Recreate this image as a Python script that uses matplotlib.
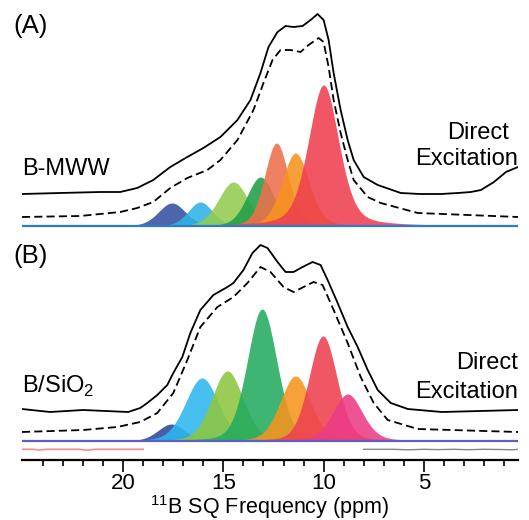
import numpy as np
import matplotlib.pyplot as plt

plt.rcParams['font.family'] = ['Liberation Sans', 'DejaVu Sans']
plt.rcParams['mathtext.fontset'] = 'custom'
plt.rcParams['mathtext.rm'] = 'Liberation Sans'

# ---- panel A (B-MWW): measured spectrum (solid) and fit (dashed), ppm vs intensity
a_spec_ppm = [25.05, 23.15, 21.15, 20.15, 19.3, 18.5, 17.65, 16.8, 16.0, 15.15, 14.3, 13.65,
              13.15, 12.75, 12.3, 11.9, 11.5, 11.05, 10.65, 10.3, 10.0, 9.75, 9.5, 9.15,
              8.8, 8.5, 8.0, 7.3, 6.15, 5.2, 4.15, 3.3, 2.65, 2.15, 1.5, 0.9, 0.3]
a_spec_int = [32, 33, 34, 34, 38, 46, 59, 69, 78, 89, 106, 126,
              153, 179, 194, 200, 199, 200, 206, 212, 206, 186, 153, 116,
              86, 66, 49, 41, 33, 32, 32, 33, 34, 36, 44, 54, 59]
a_fit_ppm = [25.05, 22.15, 20.15, 19.3, 18.5, 17.65, 16.8, 15.8, 15.15, 14.3, 13.5, 13.0,
             12.55, 12.15, 11.65, 11.15, 10.75, 10.25, 10.0, 9.75, 9.5, 9.15, 8.8, 8.5,
             7.8, 7.15, 5.3, 0.3]
a_fit_int = [9, 10, 14, 18, 24, 38, 48, 56, 66, 86, 116, 143,
             166, 176, 176, 174, 181, 188, 184, 159, 126, 93, 66, 46,
             29, 23, 13, 9]
# components: centre (ppm), height, FWHM (ppm), lorentzian fraction
a_centers = [17.57, 16.15, 14.5, 13.15, 12.35, 11.4, 10.0]
a_heights = [23, 24, 44, 49, 83, 73, 141]
a_widths = [1.6, 1.45, 1.75, 1.6, 1.4, 1.6, 1.8]
a_eta = [0.2, 0.2, 0.2, 0.2, 0.2, 0.25, 0.35]
a_colors = ['#34509f', '#2fb2e8', '#93cb4f', '#1f9e48', '#ef6f4c', '#f7931e', '#ee3f4e']

# ---- panel B (B/SiO2)
b_spec_ppm = [25.05, 23.65, 22.0, 19.75, 19.15, 18.8, 18.3, 17.8, 17.5, 17.05, 16.65, 16.15,
              15.5, 14.8, 14.5, 14.0, 13.55, 13.15, 12.8, 12.3, 11.9, 11.5, 11.05, 10.55,
              10.15, 9.8, 9.3, 8.8, 8.3, 7.8, 7.3, 6.65, 5.8, 4.1, 0.3]
b_spec_int = [32, 29, 31, 29, 33, 38, 46, 56, 68, 84, 108, 131,
              146, 154, 158, 171, 188, 196, 193, 179, 169, 169, 174, 179,
              176, 161, 138, 114, 94, 71, 51, 38, 32, 29, 31]
b_fit_ppm = [25.05, 22.0, 20.3, 19.15, 18.3, 17.5, 16.8, 16.15, 15.3, 14.5, 13.8, 13.15,
             12.65, 12.0, 11.5, 11.0, 10.5, 10.05, 9.5, 8.8, 8.15, 7.5, 6.8, 5.3, 0.3]
b_fit_int = [9, 11, 14, 19, 28, 48, 81, 114, 134, 144, 158, 174,
             169, 154, 149, 154, 159, 156, 131, 98, 64, 38, 21, 12, 9]
b_centers = [17.6, 16.07, 14.8, 13.07, 11.4, 10.03, 8.8]
b_heights = [17, 63, 70, 132, 65, 105, 47]
b_widths = [1.6, 1.95, 1.85, 1.75, 1.8, 1.65, 1.75]
b_eta = [0.2, 0.2, 0.2, 0.2, 0.2, 0.2, 0.3]
b_colors = ['#2b4a9b', '#2db6ee', '#8dc63f', '#23ab5e', '#f7941d', '#ef4050', '#ec3b84']

# residual trace under panel B
res_left_ppm = [25.05, 24.5, 24.2, 23.8, 23.0, 22.2, 21.8, 21.4, 20.5, 19.5, 19.0]
res_left_int = [-8.3, -8.3, -9.0, -8.3, -8.3, -8.3, -9.2, -8.3, -8.3, -8.3, -8.3]
res_right_ppm = [8.0, 6.5, 5.8, 5.0, 4.3, 3.5, 2.8, 2.0, 1.2, 0.6, 0.3]
res_right_int = [-8.3, -8.3, -8.8, -8.3, -8.6, -8.3, -8.7, -8.3, -8.5, -8.8, -8.3]

XMIN, XMAX = 25.05, 0.3
x = np.linspace(XMIN, XMAX, 1200)


def peak(c, h, w, eta):
    d = (x - c) / w
    return h * ((1 - eta) * np.exp(-4 * np.log(2) * d ** 2) + eta / (1 + 4 * d ** 2))


def draw_panel(ax, centers, heights, widths, etas, colors, spec_ppm, spec_int,
               fit_ppm, fit_int, base_color):
    for c, h, w, e, col in zip(centers, heights, widths, etas, colors):
        ax.fill_between(x, 0, peak(c, h, w, e), color=col, alpha=0.88, lw=0)
    ax.plot([XMIN, XMAX], [0, 0], color=base_color, lw=1.6)
    ax.plot(fit_ppm, fit_int, color='black', lw=1.3, dashes=(4.5, 2.3))
    ax.plot(spec_ppm, spec_int, color='black', lw=1.3)
    ax.set_xlim(XMIN, XMAX)
    for s in ax.spines.values():
        s.set_visible(False)
    ax.set_yticks([])


fig = plt.figure(figsize=(5.29, 5.20), dpi=100)
W, H = 529, 520

# panel A: pixel rows 0..232, baseline at 226
axA = fig.add_axes([22 / W, (H - 232) / H, 496 / W, 232 / H])
draw_panel(axA, a_centers, a_heights, a_widths, a_eta, a_colors, a_spec_ppm, a_spec_int,
           a_fit_ppm, a_fit_int, '#2a7ccf')
axA.set_ylim(-6, 226)
axA.set_xticks([])

# panel B: pixel rows 235..460, baseline at 441
axB = fig.add_axes([22 / W, (H - 460) / H, 496 / W, 225 / H])
draw_panel(axB, b_centers, b_heights, b_widths, b_eta, b_colors, b_spec_ppm, b_spec_int,
           b_fit_ppm, b_fit_int, '#5b5fc6')
axB.plot(res_left_ppm, res_left_int, color='#f07070', lw=1.2, alpha=0.8)
axB.plot(res_right_ppm, res_right_int, color='#333333', lw=1.0, alpha=0.6)
axB.set_ylim(-19, 206)
axB.spines['bottom'].set_visible(True)
axB.spines['bottom'].set_linewidth(1.6)
axB.set_xticks([20, 15, 10, 5])
axB.set_xticks(np.arange(1, 25), minor=True)
axB.tick_params(axis='x', which='major', length=8.5, width=1.2, direction='out',
                pad=1, labelsize=16)
axB.tick_params(axis='x', which='minor', length=4.5, width=1.2, direction='out')

# labels
fs = 17
fig.text(13 / W, (H - 33) / H, '(A)', fontsize=18.5, va='baseline')
fig.text(13 / W, (H - 263) / H, '(B)', fontsize=18.5, va='baseline')
fig.text(22 / W, (H - 175) / H, 'B-MWW', fontsize=fs, va='baseline')
fig.text(22 / W, (H - 393) / H, r'B/SiO$_\mathregular{2}$', fontsize=fs, va='baseline')
fig.text(509 / W, (H - 139) / H, 'Direct', fontsize=fs, va='baseline', ha='right')
fig.text(518 / W, (H - 165) / H, 'Excitation', fontsize=fs, va='baseline', ha='right')
fig.text(518 / W, (H - 369) / H, 'Direct', fontsize=fs, va='baseline', ha='right')
fig.text(518 / W, (H - 398) / H, 'Excitation', fontsize=fs, va='baseline', ha='right')
fig.text(270 / W, (H - 514) / H, r'$^\mathregular{11}$B SQ Frequency (ppm)',
         fontsize=15.5, va='baseline', ha='center')

fig.savefig('out.png', dpi=100)
